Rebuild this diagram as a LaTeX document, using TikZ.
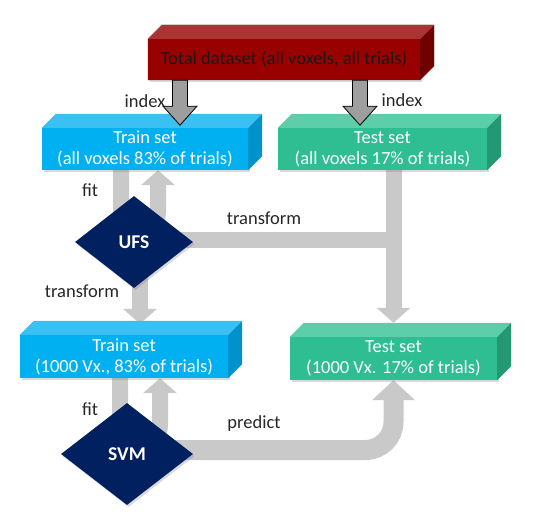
\documentclass[tikz,border=0pt]{standalone}
\usepackage{fontspec}
\setmainfont{Carlito}
\usetikzlibrary{shapes.geometric,arrows.meta,calc,shadows,backgrounds}

\definecolor{redfront}{RGB}{153,0,0}
\definecolor{redtop}{RGB}{170,52,52}
\definecolor{redside}{RGB}{112,0,0}
\definecolor{bluefront}{RGB}{0,176,240}
\definecolor{bluetop}{RGB}{58,192,242}
\definecolor{blueside}{RGB}{0,146,204}
\definecolor{greenfront}{RGB}{46,190,146}
\definecolor{greentop}{RGB}{92,206,170}
\definecolor{greenside}{RGB}{35,152,114}
\definecolor{navy}{RGB}{0,32,96}
\definecolor{flowgray}{RGB}{201,201,201}
\definecolor{lblgray}{RGB}{38,38,38}

\tikzstyle{slab}=[rectangle,inner sep=0pt,align=center,text=white,font=\fontsize{18.5}{21}\selectfont,drop shadow={shadow xshift=1.5pt,shadow yshift=-2pt,opacity=.3}]
\tikzstyle{decide}=[diamond,inner sep=0pt,fill=navy,text=white,font=\fontsize{19.5}{21}\selectfont\bfseries,drop shadow={shadow xshift=1.5pt,shadow yshift=-2pt,opacity=.3}]
\tikzstyle{flow}=[draw=flowgray,line width=16pt,-{Triangle[length=15pt,width=34pt,line width=0pt]}]
\tikzstyle{idx}=[draw=black,thick,fill=black!38]
\tikzstyle{lbl}=[text=lblgray,font=\fontsize{18.5}{21}\selectfont]

% top and right faces of a slab node
\newcommand{\slabfaces}[3]{
    \fill[#2] (#1.north west) -- ++(14,-14) -- ($(#1.north east)+(14,-14)$) -- (#1.north east) -- cycle;
    \fill[#3] (#1.north east) -- ++(14,-14) -- ($(#1.south east)+(14,-14)$) -- (#1.south east) -- cycle;
}

\begin{document}
\begin{tikzpicture}[x=1pt,y=-1pt]
    \useasboundingbox (0,0) rectangle (538,519);

    % data sets
    \node[slab,fill=redfront,text=black!90,minimum width=272pt,minimum height=41pt] (total) at (284,59.5) {Total dataset (all voxels, all trials)};
    \node[slab,fill=bluefront,minimum width=206pt,minimum height=42pt] (train1) at (145,149) {Train set\\(all voxels 83\% of trials)};
    \node[slab,fill=greenfront,minimum width=209pt,minimum height=42pt] (test1) at (382.5,149) {Test set\\(all voxels 17\% of trials)};
    \node[slab,fill=bluefront,minimum width=208pt,minimum height=43pt] (train2) at (124,356.5) {Train set\\(1000 Vx., 83\% of trials)};
    \node[slab,fill=greenfront,minimum width=207pt,minimum height=43pt] (test2) at (393.5,358.5) {Test set\\(1000 Vx. 17\% of trials)};

    \foreach \name/\top/\side in {total/redtop/redside, train1/bluetop/blueside, test1/greentop/greenside, train2/bluetop/blueside, test2/greentop/greenside}
        \slabfaces{\name}{\top}{\side};
    \draw[gray!70,very thin] (total.south west) -- (total.north west) -- ++(14,-14) -- ($(total.north east)+(14,-14)$) -- ($(total.south east)+(14,-14)$) -- (total.south east) -- cycle;

    % steps
    \node[decide,minimum width=118pt,minimum height=92pt] (ufs) at (134,242) {UFS};
    \node[decide,minimum width=132pt,minimum height=102pt] (svm) at (127,454) {SVM};

    % flows
    \begin{scope}[on background layer]
        \draw[flow,rounded corners=18pt] ([xshift=-24pt]train1.south) -- ++(0,60) -- ++(37,0) -- ([xshift=13pt]train1.south);
        \draw[flow] ([xshift=6pt]ufs.center) -- ([xshift=16pt,yshift=11pt]train2.north);
        \draw[flow,-] ([yshift=2pt]ufs.center) -- ([yshift=2pt]ufs.center -| test2.north);
        \draw[flow] (test1.south -| test2.north) -- ([yshift=14pt]test2.north);
        \draw[flow,rounded corners=18pt] ([xshift=-4pt]train2.south) -- ++(0,65) -- ++(40,0) -- ([xshift=36pt]train2.south);
        \draw[flow,line width=20pt,-{Triangle[length=20pt,width=43pt,line width=0pt]},rounded corners=28pt] ([yshift=4pt]svm.center) -| (test2.south);
    \end{scope}

    % index arrows
    \foreach \dx in {-104,76}
        \draw[idx] ([xshift=\dx pt]total.south) ++(-7.5,0) -- ++(0,26) -- ++(-9.5,0) -- ++(17,19) -- ++(17,-19) -- ++(-9.5,0) -- ++(0,-26) -- cycle;

    % labels
    \node[lbl] (idxa) at (145,101) {index};
    \node[lbl] (idxb) at (402,100) {index};
    \node[lbl] (fita) at (90,190) {fit};
    \node[lbl] (trfa) at (264,218) {transform};
    \node[lbl] (trfb) at (82,291) {transform};
    \node[lbl] (fitb) at (90,409) {fit};
    \node[lbl] (pred) at (254,424) {predict};
\end{tikzpicture}
\end{document}
